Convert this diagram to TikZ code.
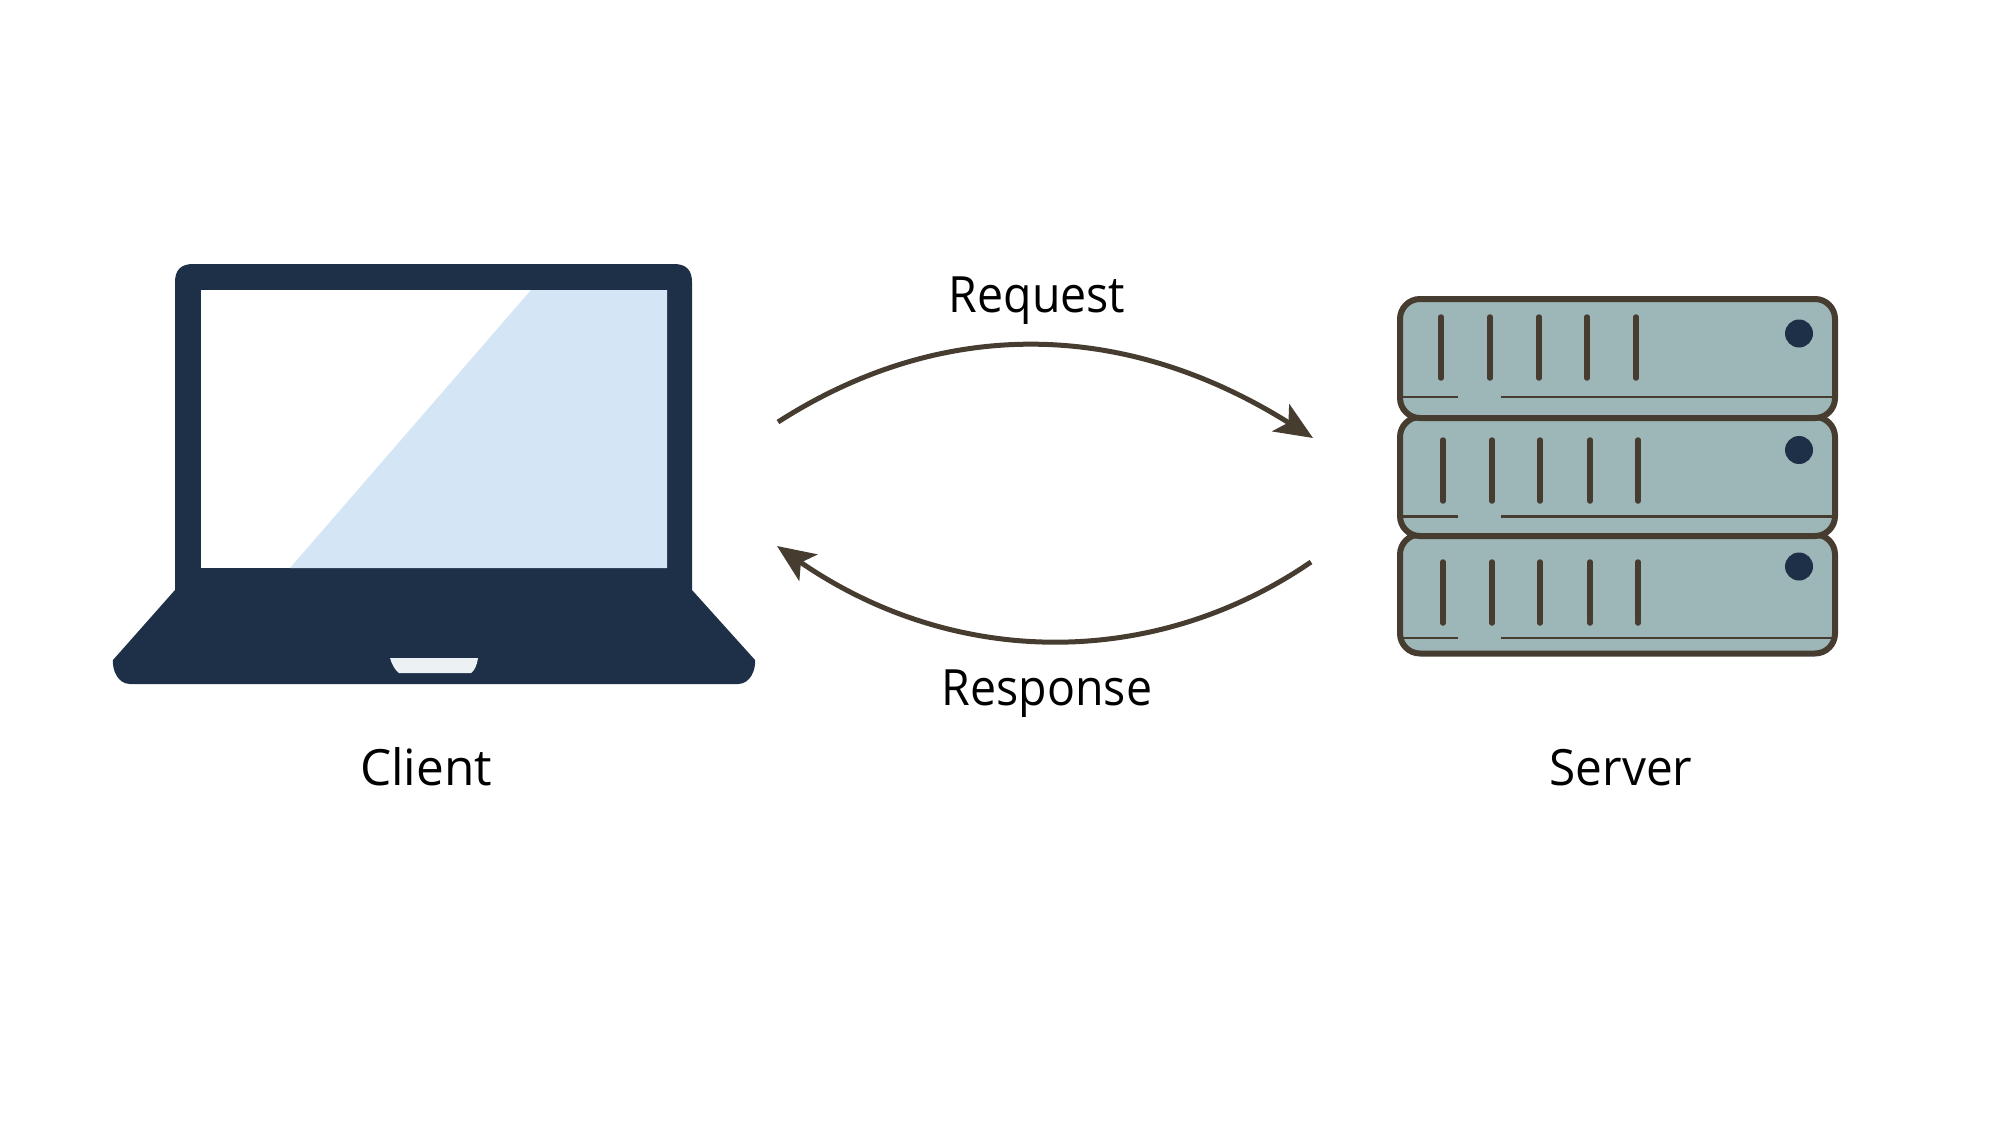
\documentclass[tikz,border=0pt]{standalone}
\usepackage{fontspec}
\setmainfont[FakeStretch=0.93]{Open Sans}
\newfontfamily\clientfont[FakeStretch=0.99]{Open Sans}
\newfontfamily\serverfont[FakeStretch=0.955]{Open Sans}
\usetikzlibrary{arrows.meta}
\definecolor{navy}{HTML}{1E2F48}
\definecolor{glass}{HTML}{D4E5F5}
\definecolor{notchc}{HTML}{ECF1F4}
\definecolor{rack}{HTML}{9DB6B7}
\definecolor{umber}{HTML}{463C30}
\tikzset{
  x=1pt,y=-1pt,
  label/.style={font=\fontsize{50}{50}\selectfont,text=black,anchor=base,inner sep=0pt},
  unit/.style={draw=umber,line width=6pt,fill=rack,rounded corners=20pt,minimum width=435pt,minimum height=119pt,inner sep=0pt,outer sep=0pt},
  vent/.style={draw=umber,line width=5.5pt,line cap=round},
  rail/.style={draw=umber,line width=2.8pt},
  led/.style={circle,fill=navy,minimum size=28pt,inner sep=0pt,outer sep=0pt},
  flow/.style={draw=umber,line width=5pt,-{Stealth[length=38pt,width=32pt,inset=9pt]}}
}
\begin{document}
\begin{tikzpicture}
\useasboundingbox (0,0) rectangle (1999,1126);
% laptop
\fill[navy] (175,590) -- (175,282) .. controls (175,270) and (181,264) .. (193,264)
  -- (674,264) .. controls (686,264) and (692,270) .. (692,282)
  -- (692,590) -- (755,660) .. controls (756,670) and (750,684) .. (738,684)
  -- (130,684) .. controls (118,684) and (112,670) .. (113,660) -- cycle;
\fill[white] (201,290) rectangle (667,568);
\fill[glass] (531,290) -- (667,290) -- (667,568) -- (290,568) -- cycle;
\fill[notchc] (390,658) -- (478,658) .. controls (477,665) and (475,670) .. (471,673)
  -- (399,673) .. controls (395,670) and (392,665) .. (390,658) -- cycle;
% server
\node[unit] (u3) at (1617.5,594) {};
\node[unit] (u2) at (1617.5,476.5) {};
\node[unit] (u1) at (1617.5,358.5) {};
\foreach \x in {1441,1490,1539,1587,1636} \draw[vent] (\x,317) -- (\x,378);
\foreach \x in {1443,1492,1540,1590,1638} {
  \draw[vent] (\x,440) -- (\x,501);
  \draw[vent] (\x,562) -- (\x,623);
}
\foreach \y in {397,516.5,638} {
  \draw[rail] (1402,\y) -- (1458,\y);
  \draw[rail] (1501,\y) -- (1833,\y);
}
\node[led] (d1) at (1799,333.5) {};
\node[led] (d2) at (1799,450) {};
\node[led] (d3) at (1799,566.5) {};
% arrows
\coordinate (a1) at (778,422);
\coordinate (b1) at (1313,438);
\coordinate (a2) at (1311,562);
\coordinate (b2) at (777,546);
\draw[flow] (a1) .. controls (940,318) and (1122,318) .. (b1);
\draw[flow] (a2) .. controls (1155,669) and (955,669) .. (b2);
% labels
\node[label] (req) at (1037,312) {Request};
\node[label] (res) at (1047,705) {Response};
\node[label] (cli) at (426,785) {\clientfont Client};
\node[label] (srv) at (1621,785) {\serverfont Server};
\end{tikzpicture}
\end{document}
